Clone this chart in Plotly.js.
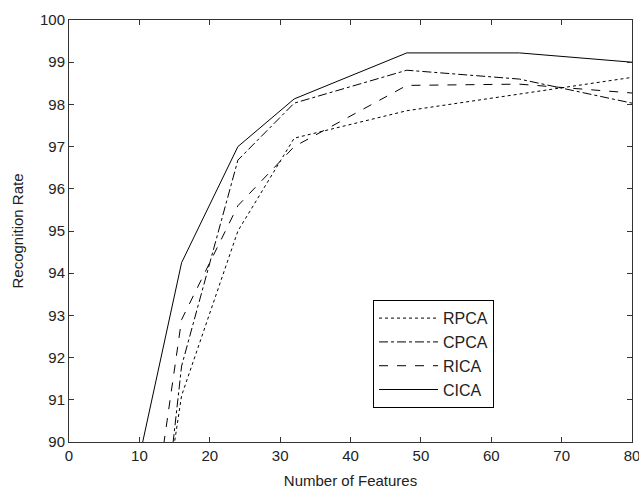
<!DOCTYPE html>
<html>
<head>
<meta charset="utf-8">
<script src="https://cdn.plot.ly/plotly-3.0.1.min.js"></script>
<style>html,body{margin:0;padding:0;background:#fff;}#chart{width:639px;height:493px;}</style>
</head>
<body>
<div id="chart"></div>
<script>
const features = [8, 16, 24, 32, 48, 64, 80];
const rpca = [82.3, 91.1, 95.0, 97.2, 97.85, 98.25, 98.64];
const cpca = [79.8, 91.8, 96.68, 98.03, 98.81, 98.6, 98.03];
const rica = [83.6, 92.9, 95.6, 97.0, 98.45, 98.48, 98.27];
const cica = [88.1, 94.25, 97.0, 98.13, 99.22, 99.22, 99.0];
const seriesNames = ['RPCA', 'CPCA', 'RICA', 'CICA'];
const seriesDash = ['dot', 'dashdot', 'dash', 'solid'];
const seriesData = [rpca, cpca, rica, cica];

const traces = seriesData.map((ys, i) => ({
  x: features, y: ys, name: seriesNames[i], type: 'scatter', mode: 'lines',
  line: {color: '#000', width: 1, dash: seriesDash[i]}
}));

const font = {family: '"Liberation Sans", Arial, sans-serif', color: '#222'};
const axisCommon = {
  showgrid: false, zeroline: false, showline: true, linecolor: '#333', linewidth: 1,
  mirror: 'ticks', ticks: 'inside', ticklen: 5, tickcolor: '#333',
  ticklabeloverflow: 'allow',
  tickfont: Object.assign({size: 15}, font)
};

const layout = {
  width: 639, height: 493,
  margin: {l: 69, r: 7, t: 20, b: 51},
  paper_bgcolor: '#fff', plot_bgcolor: '#fff',
  font: font,
  xaxis: Object.assign({}, axisCommon, {
    range: [0, 80], tickvals: [0,10,20,30,40,50,60,70,80],
    title: {text: 'Number of Features', font: Object.assign({size: 15}, font), standoff: 12}
  }),
  yaxis: Object.assign({}, axisCommon, {
    range: [90, 100], tickvals: [90,91,92,93,94,95,96,97,98,99,100],
    title: {text: 'Recognition Rate', font: Object.assign({size: 15}, font), standoff: 12}
  }),
  showlegend: true,
  legend: {
    x: 0.54, y: 0.336, xanchor: 'left', yanchor: 'top',
    bgcolor: '#fff', bordercolor: '#000', borderwidth: 1,
    itemwidth: 59, tracegroupgap: 0,
    font: Object.assign({size: 16}, font)
  }
};

Plotly.newPlot('chart', traces, layout, {displayModeBar: false, staticPlot: true});
</script>
</body>
</html>
